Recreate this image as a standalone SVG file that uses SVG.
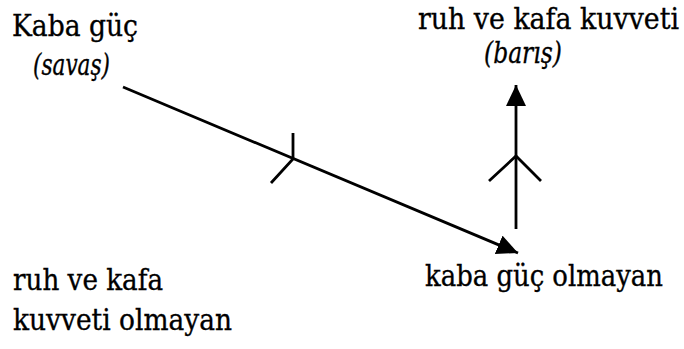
<svg xmlns="http://www.w3.org/2000/svg" width="684" height="349" viewBox="0 0 684 349">
<style>
text{font-family:"DejaVu Serif","Liberation Serif",serif;font-size:26px;fill:#000;stroke:#000;stroke-width:0.3}
.it{font-style:italic}
.ln{stroke:#000;stroke-width:2.8;fill:none;stroke-linecap:butt}
</style>
<defs>
<marker id="ah" markerUnits="userSpaceOnUse" markerWidth="24" markerHeight="22" refX="21" refY="10" orient="auto">
<path d="M0,0 L21,10 L0,20 Z" fill="#000"/>
</marker>
</defs>
<rect width="684" height="349" fill="#fff"/>
<g id="n-kaba-guc">
<text transform="translate(12,36) scale(1,1.15)" x="0" y="0" textLength="126" lengthAdjust="spacingAndGlyphs">Kaba güç</text>
<text class="it" transform="translate(33,75) scale(1,1.15)" x="0" y="0" textLength="77" lengthAdjust="spacingAndGlyphs">(savaş)</text>
</g>
<g id="n-ruh-kafa">
<text transform="translate(418,29) scale(1,1.15)" x="0" y="0" textLength="261" lengthAdjust="spacingAndGlyphs">ruh ve kafa kuvveti</text>
<text class="it" transform="translate(484,63) scale(1,1.15)" x="0" y="0" textLength="78" lengthAdjust="spacingAndGlyphs">(barış)</text>
</g>
<g id="n-kaba-guc-olmayan">
<text transform="translate(425,286) scale(1,1.15)" x="0" y="0" textLength="238" lengthAdjust="spacingAndGlyphs">kaba güç olmayan</text>
</g>
<g id="n-ruh-kafa-olmayan">
<text transform="translate(13,290) scale(1,1.15)" x="0" y="0" textLength="150" lengthAdjust="spacingAndGlyphs">ruh ve kafa</text>
<text transform="translate(13,330) scale(1,1.15)" x="0" y="0" textLength="219" lengthAdjust="spacingAndGlyphs">kuvveti olmayan</text>
</g>
<g id="connectors">
<line class="ln" x1="123" y1="87" x2="518" y2="253" marker-end="url(#ah)"/>
<polyline class="ln" points="293,133 293,159 271,183"/>
<line class="ln" x1="516" y1="229" x2="516" y2="85" marker-end="url(#ah)"/>
<polyline class="ln" points="489,181 516,156 541,181"/>
</g>
</svg>
